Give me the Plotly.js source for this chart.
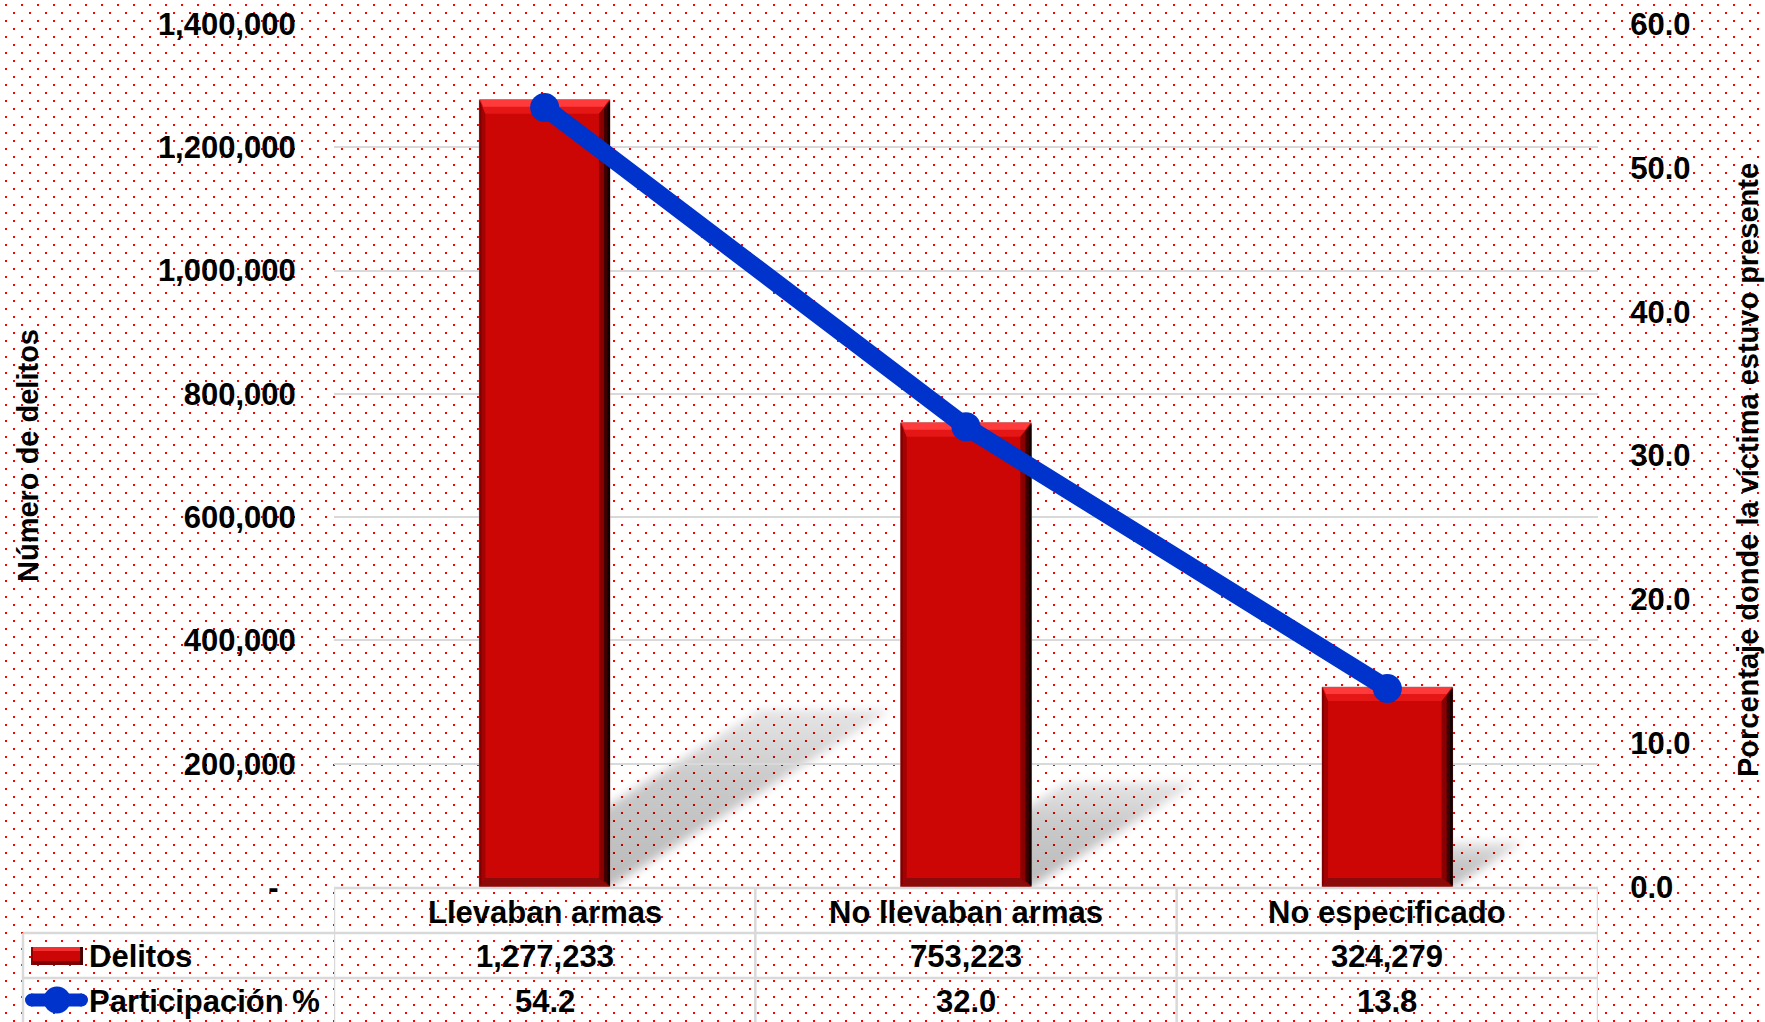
<!DOCTYPE html>
<html>
<head>
<meta charset="utf-8">
<script src="https://cdn.plot.ly/plotly-3.0.1.min.js"></script>
<style>
  html, body { margin: 0; padding: 0; }
  body {
    width: 1765px; height: 1022px; overflow: hidden;
    background-color: #ffffff;
    background-image: url("data:image/svg+xml,%3Csvg xmlns='http://www.w3.org/2000/svg' width='16' height='16'%3E%3Crect x='0' y='0' width='2' height='2' fill='%23ff0000'/%3E%3Crect x='8' y='8' width='2' height='2' fill='%23ff0000'/%3E%3C/svg%3E");
    background-position: 5px 4px;
  }
  #chart { width: 1765px; height: 1022px; }
</style>
</head>
<body>
<div id="chart"></div>
<script>
// ---------------- DATA ----------------
const categories = ['Llevaban armas', 'No llevaban armas', 'No especificado'];
const delitos = [1277233, 753223, 324279];
const participacion = [54.2, 32.0, 13.8];
const seriesNames = ['Delitos', 'Participación %'];
const leftTicks = [0, 200000, 400000, 600000, 800000, 1000000, 1200000, 1400000];
const rightTicks = [0, 10, 20, 30, 40, 50, 60];
const leftTitle = 'Número de delitos';
const rightTitle = 'Porcentaje donde la víctima estuvo presente';

// ---------------- LAYOUT GEOMETRY ----------------
const W = 1765, H = 1022;
const M = { l: 334, r: 167, t: 24, b: 135 };
const plotW = W - M.l - M.r, plotH = H - M.t - M.b;
const yMax = 1400000, y2Max = 60;
const xRange = [-0.5, categories.length - 0.5];
const kx = plotW / (xRange[1] - xRange[0]);   // px per x unit
const ky = plotH / yMax;                        // px per y unit
const dx = p => p / kx;
const dy = p => p / ky;
const xp = px => (px - M.l) / plotW;            // pixel -> paper
const yp = py => (M.t + plotH - py) / plotH;

const FONT = 'Liberation Sans, Arial, Helvetica, sans-serif';
const xs = categories.map((c, i) => i);
const barW = 0.31;

// ---------------- TRACES ----------------
const traces = [];
traces.push({
  type: 'bar', x: xs, y: delitos, width: barW, name: seriesNames[0],
  marker: { color: '#CC0505', line: { color: 'rgba(190,150,150,0.9)', width: 1 } },
  hoverinfo: 'skip', showlegend: false
});

// bevel polygons derived from bar values
function polyTrace(builder, color) {
  const X = [], Y = [];
  delitos.forEach((v, i) => {
    const pts = builder(i - barW / 2, i + barW / 2, v);
    pts.forEach(p => { X.push(p[0]); Y.push(p[1]); });
    X.push(pts[0][0]); Y.push(pts[0][1]);
    X.push(null); Y.push(null);
  });
  return { type: 'scatter', mode: 'lines', x: X, y: Y, fill: 'toself', fillcolor: color,
           line: { width: 0, color: color }, hoverinfo: 'skip', showlegend: false };
}
traces.push(polyTrace((x0, x1, v) => [[x0, 0], [x0, v], [x0 + dx(6), v - dy(13)], [x0 + dx(6), dy(8)]], '#A30202'));
traces.push(polyTrace((x0, x1, v) => [[x0, 0], [x0, v], [x0 + dx(2), v - dy(3)], [x0 + dx(2), dy(3)]], '#7E0000'));
traces.push(polyTrace((x0, x1, v) => [[x1, 0], [x1, v], [x1 - dx(11), v - dy(13)], [x1 - dx(11), dy(8)]], '#8A0000'));
traces.push(polyTrace((x0, x1, v) => [[x1, dy(2)], [x1, v - dy(2)], [x1 - dx(6), v - dy(8)], [x1 - dx(6), dy(6)]], '#3E0000'));
traces.push(polyTrace((x0, x1, v) => [[x1, dy(1)], [x1, v - dy(1)], [x1 - dx(2.5), v - dy(4)], [x1 - dx(2.5), dy(3)]], '#120000'));
traces.push(polyTrace((x0, x1, v) => [[x0, 0], [x1, 0], [x1 - dx(11), dy(9)], [x0 + dx(6), dy(9)]], '#8C0A0A'));
traces.push(polyTrace((x0, x1, v) => [[x0, v], [x1, v], [x1 - dx(11), v - dy(14)], [x0 + dx(6), v - dy(14)]], '#E41616'));
traces.push(polyTrace((x0, x1, v) => [[x0 + dx(1), v], [x1 - dx(1), v], [x1 - dx(6), v - dy(7)], [x0 + dx(4), v - dy(7)]], '#FF3A3A'));

traces.push({
  type: 'scatter', mode: 'lines+markers', x: xs, y: participacion, yaxis: 'y2', name: seriesNames[1],
  line: { color: '#0033CC', width: 18 },
  marker: { color: '#0033CC', size: 29 },
  hoverinfo: 'skip', showlegend: false
});

// ---------------- SHAPES ----------------
const shapes = [];
const GRID = '#d9d9d9';
const SHADOW_MARK = 'rgb(1,2,3)';
// shadows (projected from bar values), drawn below
const shear = 0.357, lift = 0.225;
delitos.forEach((v, i) => {
  const x0 = i - barW / 2, x1 = i + barW / 2;
  const off = dx(shear * v * ky);
  const top = lift * v;
  shapes.push({ type: 'path', xref: 'x', yref: 'y', layer: 'below',
    path: `M ${x0} 0 L ${x1} 0 L ${x1 + off} ${top} L ${x0 + off} ${top} Z`,
    fillcolor: SHADOW_MARK, opacity: 0.2, line: { width: 0 } });
});

// data table lines
const colEdges = [-0.5, 0.5, 1.5, 2.5];
const rowTop = 888, row1 = 933, row2 = 978, rowBottom = 1030;
shapes.push({ type: 'line', xref: 'x', yref: 'paper', x0: colEdges[0], x1: colEdges[3], y0: yp(rowTop), y1: yp(rowTop), line: { color: GRID, width: 2.5 }, layer: 'above' });
[row1, row2].forEach(r => {
  shapes.push({ type: 'line', xref: 'paper', yref: 'paper', x0: xp(23), x1: 1, y0: yp(r), y1: yp(r), line: { color: GRID, width: 2.5 }, layer: 'above' });
});
colEdges.forEach(c => {
  shapes.push({ type: 'line', xref: 'x', yref: 'paper', x0: c, x1: c, y0: yp(rowTop), y1: yp(rowBottom), line: { color: GRID, width: 2.5 }, layer: 'above' });
});
shapes.push({ type: 'line', xref: 'paper', yref: 'paper', x0: xp(23), x1: xp(23), y0: yp(row1), y1: yp(rowBottom), line: { color: GRID, width: 2.5 }, layer: 'above' });

// legend keys inside table
function prect(x0, x1, y0, y1, fill) {
  return { type: 'rect', xref: 'paper', yref: 'paper', x0: xp(x0), x1: xp(x1), y0: yp(y0), y1: yp(y1),
           fillcolor: fill, line: { width: 0 }, layer: 'above' };
}
shapes.push(prect(31, 83, 947, 965, '#CC0505'));
shapes.push(prect(31, 83, 947, 951, '#F23030'));
shapes.push(prect(31, 83, 961, 965, '#7E0000'));
shapes.push(prect(80, 83, 947, 965, '#4A0000'));
shapes.push(prect(31, 33, 947, 965, '#900000'));
function pcircle(cx, cy, r, fill) {
  return { type: 'circle', xref: 'paper', yref: 'paper', x0: xp(cx - r), x1: xp(cx + r), y0: yp(cy - r), y1: yp(cy + r),
           fillcolor: fill, line: { width: 0 }, layer: 'above' };
}
shapes.push(prect(31, 82, 993.5, 1006.5, '#0033CC'));
shapes.push(pcircle(31.5, 1000, 6.5, '#0033CC'));
shapes.push(pcircle(81.5, 1000, 6.5, '#0033CC'));
shapes.push(pcircle(57, 1000, 13.5, '#0033CC'));

// ---------------- ANNOTATIONS ----------------
const annotations = [];
const tf = { family: FONT, size: 31, color: '#000', weight: 'bold' };
categories.forEach((c, i) => {
  annotations.push({ xref: 'x', yref: 'paper', x: i, y: yp(912), text: c, showarrow: false, xanchor: 'center', yanchor: 'middle', font: tf });
  annotations.push({ xref: 'x', yref: 'paper', x: i, y: yp(956), text: delitos[i].toLocaleString('en-US'), showarrow: false, xanchor: 'center', yanchor: 'middle', font: tf });
  annotations.push({ xref: 'x', yref: 'paper', x: i, y: yp(1001), text: participacion[i].toFixed(1), showarrow: false, xanchor: 'center', yanchor: 'middle', font: tf });
});
annotations.push({ xref: 'paper', yref: 'paper', x: xp(87), y: yp(956), text: seriesNames[0], showarrow: false, xanchor: 'left', yanchor: 'middle', font: tf });
annotations.push({ xref: 'paper', yref: 'paper', x: xp(87), y: yp(1001), text: seriesNames[1], showarrow: false, xanchor: 'left', yanchor: 'middle', font: tf });
const titleFont = { family: FONT, size: 29, color: '#000', weight: 'bold' };
annotations.push({ xref: 'paper', yref: 'paper', x: xp(28), y: yp(456), text: leftTitle, textangle: -90, showarrow: false, xanchor: 'center', yanchor: 'middle', font: titleFont });
annotations.push({ xref: 'paper', yref: 'paper', x: xp(1748), y: yp(470), text: rightTitle, textangle: -90, showarrow: false, xanchor: 'center', yanchor: 'middle', font: titleFont });

// ---------------- LAYOUT ----------------
const tickFont = { family: FONT, size: 31, color: '#000', weight: 'bold' };
const layout = {
  width: W, height: H,
  margin: { l: M.l, r: M.r, t: M.t, b: M.b, pad: 0 },
  paper_bgcolor: 'rgba(0,0,0,0)', plot_bgcolor: 'rgba(0,0,0,0)',
  font: { family: FONT, color: '#000' },
  showlegend: false, bargap: 0,
  xaxis: { range: xRange, showticklabels: false, showgrid: false, zeroline: false, showline: false, ticks: '', fixedrange: true },
  yaxis: {
    range: [0, yMax], tickmode: 'array', tickvals: leftTicks,
    ticktext: leftTicks.map(v => v === 0 ? '-\u00a0\u00a0' : v.toLocaleString('en-US')),
    showgrid: true, gridcolor: GRID, gridwidth: 2, zeroline: false, showline: false,
    ticks: 'outside', ticklen: 31, tickcolor: 'rgba(0,0,0,0)', tickfont: tickFont, fixedrange: true
  },
  yaxis2: {
    overlaying: 'y', side: 'right', range: [0, y2Max], tickmode: 'array', tickvals: rightTicks,
    ticktext: rightTicks.map(v => v.toFixed(1)),
    showgrid: false, zeroline: false, showline: false,
    ticks: 'outside', ticklen: 25, tickcolor: 'rgba(0,0,0,0)', tickfont: tickFont, fixedrange: true
  },
  shapes: shapes,
  annotations: annotations
};

function decorateShadows(gd) {
  const svg = gd.querySelector('svg.main-svg');
  const NS = 'http://www.w3.org/2000/svg';
  let defs = svg.querySelector('defs');
  if (!defs) { defs = document.createElementNS(NS, 'defs'); svg.insertBefore(defs, svg.firstChild); }
  if (!svg.querySelector('#shBlur')) {
    const filt = document.createElementNS(NS, 'filter');
    filt.setAttribute('id', 'shBlur');
    filt.setAttribute('x', '-30%'); filt.setAttribute('y', '-30%');
    filt.setAttribute('width', '160%'); filt.setAttribute('height', '160%');
    const blur = document.createElementNS(NS, 'feGaussianBlur');
    blur.setAttribute('stdDeviation', '5');
    filt.appendChild(blur);
    defs.appendChild(filt);
    const grad = document.createElementNS(NS, 'linearGradient');
    grad.setAttribute('id', 'shGrad');
    grad.setAttribute('x1', '0'); grad.setAttribute('y1', '1'); grad.setAttribute('x2', '0'); grad.setAttribute('y2', '0');
    [['0', 0.27], ['0.6', 0.21], ['1', 0.1]].forEach(s => {
      const st = document.createElementNS(NS, 'stop');
      st.setAttribute('offset', s[0]); st.setAttribute('stop-color', '#000'); st.setAttribute('stop-opacity', s[1]);
      grad.appendChild(st);
    });
    defs.appendChild(grad);
  }
  gd.querySelectorAll('path').forEach(p => {
    const st = (p.getAttribute('style') || '').replace(/\s/g, '');
    if (st.indexOf('rgb(1,2,3)') !== -1) {
      p.style.fill = 'url(#shGrad)';
      p.style.fillOpacity = '1';
      p.style.opacity = '1';
      p.setAttribute('filter', 'url(#shBlur)');
    }
  });
}

Plotly.newPlot('chart', traces, layout, { staticPlot: true, displayModeBar: false }).then(gd => {
  decorateShadows(gd);
});
</script>
</body>
</html>
